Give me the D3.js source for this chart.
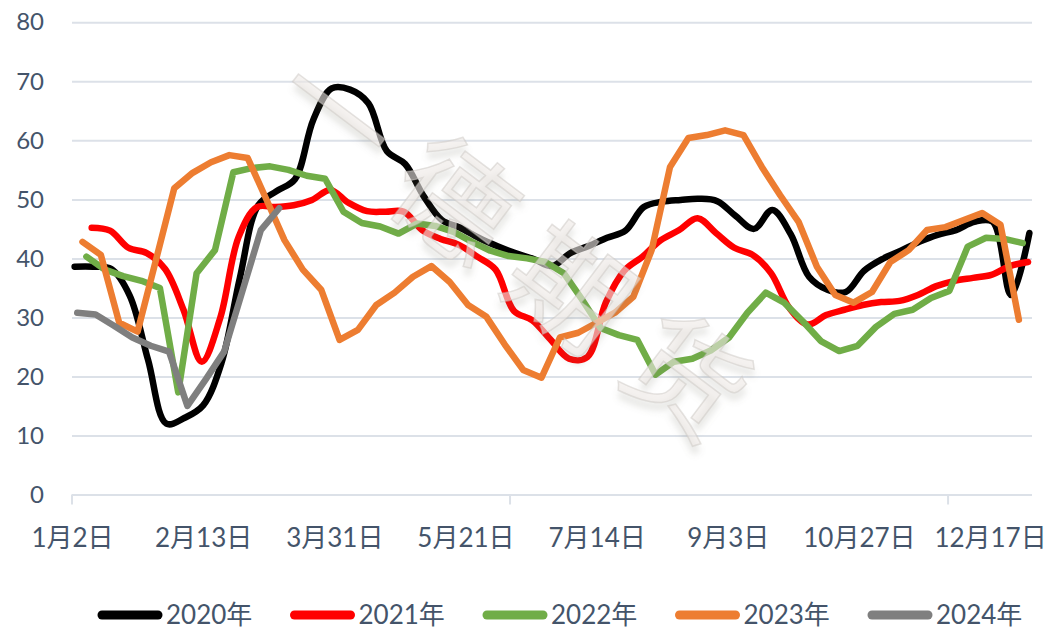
<!DOCTYPE html>
<html>
<head>
<meta charset="utf-8">
<script src="https://cdn.jsdelivr.net/npm/d3@7"></script>
<style>
  body { margin: 0; background: #fff; }
  svg { display: block; }
</style>
</head>
<body>
<div id="chart"></div>
<script>
// series names and colours
var years = ['2020年', '2021年', '2022年', '2023年', '2024年'];
var colors = ['#000000', '#FF0000', '#70AD47', '#ED7D31', '#7F7F7F'];
var smooth = [true, true, false, false, false];

// first weekly observation, in days from 1月2日 on the axis
var firstDay = [1, 7.5, 5.5, 4, 2];

// weekly values
var v2020 = [38.6, 38.6, 38.2, 33.7, 22.8, 12.0, 13.0, 15.1, 22.3, 36.7,
             49.0, 51.4, 53.4, 63.5, 68.8, 68.6, 66.3, 58.2, 56.0, 50.6,
             46.5, 45.2, 43.5, 42.1, 40.9, 39.9, 38.7, 40.9, 42.1, 43.5,
             44.7, 48.7, 49.6, 49.9, 50.1, 49.7, 47.2, 45.0, 48.2, 44.1,
             36.9, 34.7, 34.3, 37.9, 39.9, 41.3, 42.8, 44.0, 44.8, 46.2,
             46.2, 33.8, 44.3];
var v2021 = [45.2, 44.7, 41.8, 40.9, 38.2, 31.3, 22.5, 29.9, 43.6, 48.7,
             48.7, 49.0, 49.9, 51.6, 49.4, 48.0, 47.9, 47.9, 44.8, 43.3,
             42.3, 40.3, 38.1, 31.1, 29.5, 26.2, 23.0, 23.3, 32.5, 37.9,
             40.3, 43.1, 44.8, 46.8, 44.3, 41.8, 40.6, 37.5, 31.6, 28.8,
             30.4, 31.3, 32.1, 32.6, 32.8, 33.8, 35.3, 36.2, 36.7, 37.2,
             38.7, 39.4];
var v2022 = [40.3, 38.1, 37.0, 36.2, 35.0, 17.3, 37.5, 41.4, 54.6, 55.3,
             55.6, 55.0, 54.0, 53.5, 47.9, 46.0, 45.4, 44.2, 45.9, 45.5,
             44.5, 42.8, 41.3, 40.4, 40.0, 39.4, 37.5, 33.0, 28.2, 27.0,
             26.2, 20.3, 22.5, 23.0, 24.4, 26.6, 30.8, 34.2, 32.5, 29.4,
             26.0, 24.3, 25.2, 28.4, 30.6, 31.3, 33.3, 34.5, 42.0, 43.5,
             43.3, 42.6];
var v2023 = [42.8, 40.6, 29.1, 27.6, 39.7, 51.9, 54.5, 56.3, 57.5, 57.0,
             50.1, 43.1, 38.1, 34.7, 26.2, 27.9, 32.1, 34.2, 36.9, 38.7,
             36.0, 32.1, 30.1, 25.4, 21.1, 19.8, 26.6, 27.4, 29.1, 30.8,
             33.5, 41.4, 55.5, 60.4, 60.9, 61.7, 60.9, 55.5, 50.7, 46.2,
             38.6, 33.8, 32.5, 34.3, 39.4, 41.4, 44.8, 45.3, 46.5, 47.7,
             45.7, 29.6];
var v2024 = [30.8, 30.5, 28.6, 26.6, 25.2, 24.2, 15.0, 19.5, 24.2, 34.5,
             44.8, 48.5];
var values = [v2020, v2021, v2022, v2023, v2024];

// axes
var yTicks = [0, 10, 20, 30, 40, 50, 60, 70, 80];
var xLabels = ['1月2日', '2月13日', '3月31日', '5月21日', '7月14日', '9月3日', '10月27日', '12月17日'];
var xLabelDays = [0, 50, 100, 150, 200, 250, 300, 350];
var xTickDays = [0, 167, 334];

var w = 1056, h = 633;
var font = "Lato, 'Noto Sans CJK SC', sans-serif";
var textColor = '#44546A';
var gridColor = '#DCE1E8';

var svg = d3.select('#chart').append('svg')
  .attr('width', w)
  .attr('height', h)
  .style('background', '#fff');

var x = d3.scaleLinear().domain([0, 366]).range([72, 1032]);
var y = d3.scaleLinear().domain([0, 80]).range([494.5, 22.3]);

// gridlines + y labels
var yAxis = svg.append('g')
  .attr('transform', 'translate(' + x(0) + ',0)')
  .call(d3.axisLeft(y).tickValues(yTicks).tickSize(-(x.range()[1] - x.range()[0])).tickPadding(28));
yAxis.select('.domain').remove();
yAxis.selectAll('line').attr('stroke', gridColor).attr('stroke-width', 2);
yAxis.selectAll('text')
  .attr('fill', textColor)
  .style('font-family', font)
  .style('font-size', '24px');

// x tick marks
svg.append('g').selectAll('line')
  .data(xTickDays)
  .join('line')
  .attr('x1', function(d) { return x(d); })
  .attr('x2', function(d) { return x(d); })
  .attr('y1', y(0))
  .attr('y2', y(0) + 10)
  .attr('stroke', gridColor)
  .attr('stroke-width', 2);

// x labels
var xAxis = svg.append('g')
  .attr('transform', 'translate(0,' + y(0) + ')')
  .call(d3.axisBottom(x).tickValues(xLabelDays).tickSize(0).tickPadding(34)
    .tickFormat(function(d, i) { return xLabels[i]; }));
xAxis.select('.domain').remove();
xAxis.selectAll('text')
  .attr('fill', textColor)
  .style('font-family', font)
  .style('font-size', '26px');

// lines
var lines = svg.append('g').attr('class', 'lines');
values.forEach(function(vals, s) {
  var line = d3.line()
    .x(function(d, i) { return x(firstDay[s] + 7 * i); })
    .y(function(d) { return y(d); })
    .curve(smooth[s] ? d3.curveCatmullRom.alpha(0.5) : d3.curveLinear);
  lines.append('path')
    .datum(vals)
    .attr('d', line)
    .attr('fill', 'none')
    .attr('stroke', colors[s])
    .attr('stroke-width', 6.5)
    .attr('stroke-linejoin', 'round')
    .attr('stroke-linecap', 'round');
});

// watermark
var defs = svg.append('defs');
defs.append('filter').attr('id', 'wmblur')
  .append('feGaussianBlur').attr('stdDeviation', 3);
var wm = svg.append('g')
  .attr('transform', 'translate(528,246) rotate(37)')
  .style('pointer-events', 'none');
wm.append('text')
  .attr('x', 5).attr('y', 6)
  .attr('text-anchor', 'middle')
  .attr('dominant-baseline', 'central')
  .attr('filter', 'url(#wmblur)')
  .style('font-family', "'Noto Sans CJK SC', sans-serif")
  .style('font-size', '118px')
  .style('letter-spacing', '28px')
  .attr('fill', 'rgba(120,110,100,0.16)')
  .text('一德期货');
wm.append('text')
  .attr('text-anchor', 'middle')
  .attr('dominant-baseline', 'central')
  .style('font-family', "'Noto Sans CJK SC', sans-serif")
  .style('font-size', '118px')
  .style('letter-spacing', '28px')
  .attr('fill', 'rgba(238,234,230,0.6)')
  .attr('stroke', 'rgba(200,195,190,0.45)')
  .attr('stroke-width', 1.5)
  .text('一德期货');

// legend
var legend = svg.append('g').attr('class', 'legend');
var item = legend.selectAll('g')
  .data(years)
  .join('g')
  .attr('transform', function(d, i) { return 'translate(' + (98 + i * 192.5) + ',615)'; });
item.append('line')
  .attr('x1', 4).attr('x2', 60)
  .attr('y1', 0).attr('y2', 0)
  .attr('stroke', function(d, i) { return colors[i]; })
  .attr('stroke-width', 9)
  .attr('stroke-linecap', 'round');
item.append('text')
  .attr('x', 68)
  .attr('y', 0)
  .attr('dy', '0.35em')
  .attr('fill', textColor)
  .style('font-family', font)
  .style('font-size', '26px')
  .text(function(d) { return d; });
</script>
</body>
</html>
